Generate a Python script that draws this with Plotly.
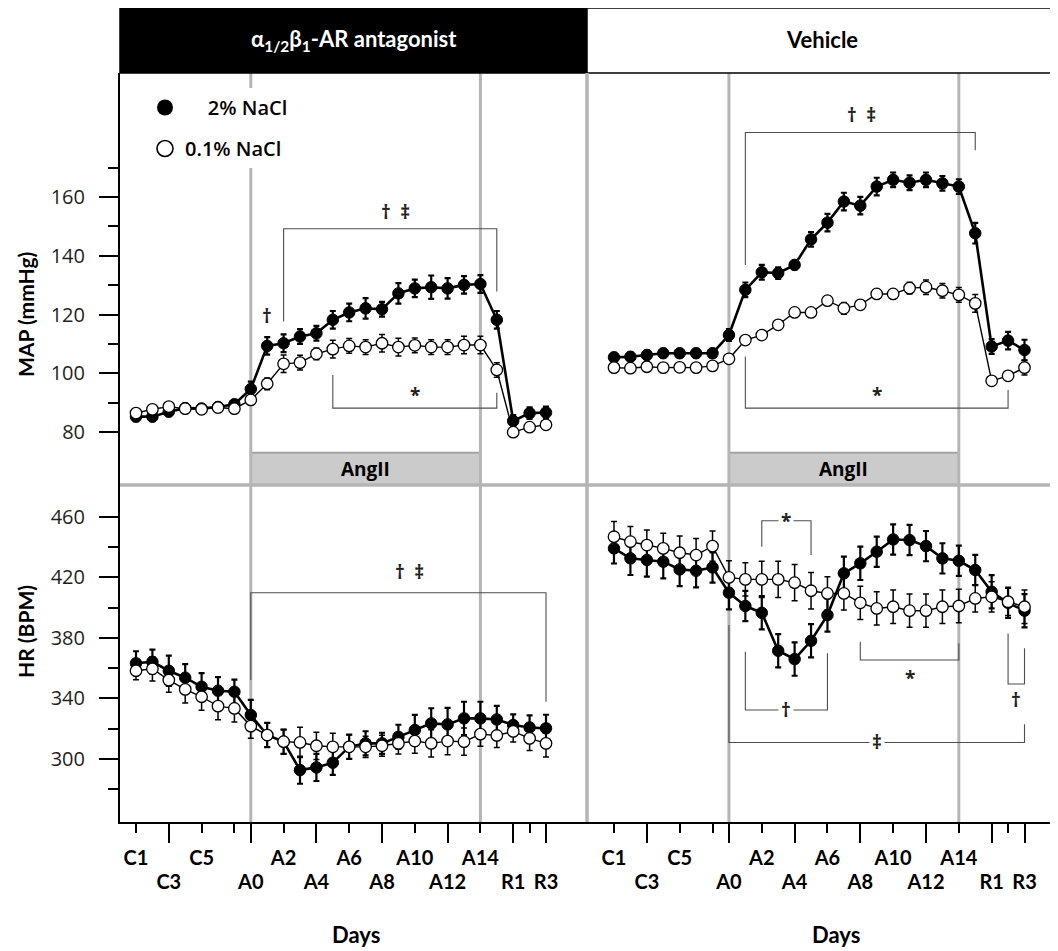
import plotly.graph_objects as go

# page offset: the html body adds an 8 px margin, so lay out in page pixels minus 8
OFF = 8
W, H = 1050, 943


def xp(px):
    return (px - OFF) / W


def yp(py):
    return 1 - (py - OFF) / H


# ---------------- data ----------------
day_index = list(range(26))  # C1..C7, A0..A14, extra day, R1..R3
tick_row1_vals = [0, 4, 9, 13, 17, 21]
tick_row1_text = ["C1", "C5", "A2", "A6", "A10", "A14"]
tick_plain_vals = [6, 24]
tick_row2_vals = [2, 7, 11, 15, 19, 23, 25]
tick_row2_text = ["C3", "A0", "A4", "A8", "A12", "R1", "R3"]

# MAP, alpha/beta antagonist
map_ant_2 = [85.2, 85.2, 86.9, 88.1, 88.0, 88.5, 89.4, 94.6, 109.3, 110.2, 112.5, 113.6, 118.2,
             120.7, 122.1, 121.8, 127.2, 128.9, 129.3, 128.9, 130.1, 130.4, 118.2, 83.7, 86.4, 86.6]
map_ant_2_err = [1.5, 1.5, 1.5, 1.5, 1.5, 1.5, 1.5, 2.5, 3, 3, 2.5, 2.5, 3, 3, 3.5, 2.5, 3.5, 3, 4, 3.5,
                 3, 3, 3, 2, 2, 2]
map_ant_01 = [86.4, 87.7, 88.6, 87.9, 87.7, 88.3, 87.9, 90.9, 96.4, 103.2, 103.6, 106.6, 108.2,
              109.3, 108.9, 110.2, 108.9, 109.5, 108.9, 108.9, 109.6, 109.6, 101.1, 79.9, 81.6, 82.4]
map_ant_01_err = [1, 1, 1, 1, 1, 1, 1, 1.5, 2, 3, 2.5, 2, 3, 2.5, 2.5, 3, 3, 2.5, 2.5, 2.5, 3, 3, 2.5,
                  1, 1, 1]

# MAP, vehicle
map_veh_2 = [105.4, 105.6, 106.2, 106.8, 106.8, 106.8, 106.8, 113.0, 128.4, 134.4, 134.1, 136.9,
             145.6, 151.3, 158.5, 157.1, 163.6, 165.9, 164.9, 165.9, 164.7, 163.6, 147.7, 109.1,
             111.1, 107.9]
map_veh_2_err = [1.5, 1.5, 1.5, 1.5, 1.5, 1.5, 1.5, 2, 2.5, 2.5, 2, 1.5, 2.5, 3, 3, 3, 3, 2.5, 2.5,
                 2.5, 2.5, 2.5, 3.5, 2.5, 3, 3.5]
map_veh_01 = [101.9, 101.7, 102.2, 101.9, 102.0, 101.9, 102.5, 104.9, 111.3, 113.0, 116.5, 120.7,
              120.7, 124.7, 122.1, 123.3, 127.0, 127.0, 129.0, 129.3, 128.1, 126.7, 123.8, 97.4,
              99.1, 101.9]
map_veh_01_err = [0.8, 0.8, 0.8, 0.8, 0.8, 0.8, 0.8, 1, 1, 1, 1, 1, 1, 1.5, 2, 1.5, 1.5, 1.5, 2, 2.5,
                  2.5, 2.5, 3, 1, 1, 2.5]

# HR, alpha/beta antagonist
hr_ant_2 = [363.1, 364.1, 358.2, 353.6, 347.6, 345.0, 344.3, 328.9, 315.7, 311.3, 292.5, 294.3,
            297.4, 307.9, 310.2, 310.2, 314.5, 319.0, 323.4, 322.7, 326.7, 326.7, 326.0, 322.3,
            320.7, 320.1]
hr_ant_2_err = [8, 8, 10, 9, 9, 9, 8, 10, 8, 8, 9, 9, 8, 8, 8, 7, 8, 10, 10, 11, 11, 11, 9, 7, 8, 9]
hr_ant_01 = [358.2, 359.5, 352.0, 345.9, 341.0, 334.8, 333.3, 321.6, 315.7, 311.3, 310.8, 308.6,
             307.9, 307.9, 307.9, 308.6, 310.2, 311.7, 310.2, 311.7, 311.3, 316.3, 315.4, 318.1,
             313.5, 310.2]
hr_ant_01_err = [6, 8, 8, 9, 9, 9, 9, 8, 8, 8, 10, 9, 9, 8, 7, 7, 7, 8, 9, 9, 9, 8, 8, 7, 8, 9]

# HR, vehicle
hr_veh_2 = [439.1, 432.5, 431.4, 430.3, 425.2, 424.3, 426.5, 409.8, 401.0, 396.5, 371.4, 365.9,
            378.0, 395.0, 422.6, 429.2, 436.9, 445.0, 444.6, 440.6, 432.5, 430.9, 424.8, 410.4,
            403.1, 397.9]
hr_veh_2_err = [10, 11, 11, 11, 11, 11, 10, 11, 10, 11, 11, 11, 11, 11, 11, 11, 10, 10, 10, 10, 10,
                10, 10, 11, 10, 11]
hr_veh_01 = [446.8, 443.5, 441.3, 439.1, 436.2, 434.7, 440.6, 419.9, 418.6, 418.6, 418.6, 416.4,
             411.1, 409.3, 409.3, 403.1, 399.4, 400.5, 397.9, 397.9, 400.5, 401.0, 406.0, 407.1,
             403.8, 400.5]
hr_veh_01_err = [10, 10, 10, 10, 11, 11, 10, 11, 11, 12, 12, 12, 12, 11, 11, 11, 11, 11, 11, 11, 11,
                 11, 9, 10, 9, 11]

# significance brackets: axis, x0, x1, y of bar, y of left end, y of right end
bracket_axes = ["1", "1", "2", "2", "3", "4", "4", "4", "4", "4"]
bracket_x0 = [9, 12, 8, 8, 7, 9, 8, 15, 24, 7]
bracket_x1 = [22, 22, 22, 24, 25, 12, 13, 21, 25, 25]
bracket_y = [149.2, 88.1, 182.0, 88.1, 409.8, 457.4, 332.2, 365.3, 349.4, 310.8]
bracket_yl = [117.6, 99.4, 136.9, 105.7, 352.0, 440.2, 370.8, 377.4, 382.9, 388.4]
bracket_yr = [127.8, 93.3, 176.0, 94.3, 337.7, 434.7, 369.7, 376.3, 373.0, 322.9]

# significance symbols
sig_axes = ["1", "1", "1", "2", "2", "3", "4", "4", "4", "4", "4"]
sig_x = [15.85, 8.0, 17.0, 15.1, 16.0, 16.7, 10.5, 10.5, 18.0, 24.5, 16.0]
sig_y = [155.0, 119.5, 92.6, 188.0, 92.6, 423.6, 457.4, 332.2, 353.2, 338.8, 310.8]
sig_text = ["†\u2002‡", "†", "*", "†\u2002‡", "*", "†\u2002‡", "*", "†", "*", "†", "‡"]
sig_gap = [False, False, False, False, False, False, True, True, False, False, True]

angii_start, angii_end = 7, 21

series_names = ["\u2007\u20072% NaCl", "0.1% NaCl"]

# ---------------- style ----------------
COND = "Lato, Roboto, sans-serif"
REG = "Open Sans, Noto Sans, sans-serif"
INK = "#231f20"
GRAY = "#b5b5b5"

left_dom = [xp(120), xp(587)]
right_dom = [xp(587), 1.0]
top_dom = [yp(485), yp(73)]
bot_dom = [yp(822), yp(485)]
range_left = [-0.976, 27.5]
range_right = [-1.644, 27.04]
range_map = [61.9, 202.3]
range_hr = [258.2, 481.0]

fig = go.Figure()

panels = [
    ("x", "y", map_ant_2, map_ant_2_err, map_ant_01, map_ant_01_err),
    ("x2", "y2", map_veh_2, map_veh_2_err, map_veh_01, map_veh_01_err),
    ("x3", "y3", hr_ant_2, hr_ant_2_err, hr_ant_01, hr_ant_01_err),
    ("x4", "y4", hr_veh_2, hr_veh_2_err, hr_veh_01, hr_veh_01_err),
]
for xa, ya, hi, hie, lo, loe in panels:
    fig.add_trace(go.Scatter(
        x=day_index, y=hi, xaxis=xa, yaxis=ya, mode="lines+markers", showlegend=False,
        line=dict(color="black", width=2.6),
        marker=dict(size=11.5, color="black", line=dict(color="black", width=1)),
        error_y=dict(type="data", array=hie, color="black", thickness=2.2, width=3)))
    fig.add_trace(go.Scatter(
        x=day_index, y=lo, xaxis=xa, yaxis=ya, mode="lines+markers", showlegend=False,
        line=dict(color="black", width=1.4),
        marker=dict(size=11.5, color="white", line=dict(color="black", width=1.3)),
        error_y=dict(type="data", array=loe, color="black", thickness=1.5, width=3)))

# legend entries
fig.add_trace(go.Scatter(x=[None], y=[None], xaxis="x", yaxis="y", mode="markers",
                         name=series_names[0], marker=dict(size=16, color="black"), legendgroup="a"))
fig.add_trace(go.Scatter(x=[None], y=[None], xaxis="x", yaxis="y", mode="markers",
                         name=series_names[1],
                         marker=dict(size=16, color="white", line=dict(color="black", width=1.6)),
                         legendgroup="b"))
# overlay-axis carriers (invisible)
fig.add_trace(go.Scatter(x=[None], y=[None], xaxis="x5", yaxis="y3", showlegend=False, hoverinfo="skip"))
fig.add_trace(go.Scatter(x=[None], y=[None], xaxis="x6", yaxis="y4", showlegend=False, hoverinfo="skip"))

shapes = []
# header boxes
shapes.append(dict(type="rect", xref="paper", yref="paper", x0=xp(120), x1=xp(587),
                   y0=yp(73), y1=yp(8), fillcolor="black", line=dict(color="black", width=1.5)))
shapes.append(dict(type="rect", xref="paper", yref="paper", x0=xp(587), x1=1.2,
                   y0=yp(73), y1=yp(8), fillcolor="white", line=dict(color="black", width=1.5)))
# AngII boxes
for xa, ya in [("x", "y"), ("x2", "y2")]:
    shapes.append(dict(type="rect", xref=xa, yref=ya + " domain", x0=angii_start, x1=angii_end,
                       y0=0, y1=0.078, fillcolor="#cbcbcb", line=dict(width=0), layer="below"))
    shapes.append(dict(type="line", xref=xa, yref=ya + " domain", x0=angii_start, x1=angii_end,
                       y0=0.078, y1=0.078, line=dict(color="#a3a3a3", width=2), layer="below"))
# gray treatment lines
for xa, ya in [("x", "y"), ("x2", "y2"), ("x3", "y3"), ("x4", "y4")]:
    for xv in (angii_start, angii_end):
        shapes.append(dict(type="line", xref=xa, yref=ya + " domain", x0=xv, x1=xv, y0=0, y1=1,
                           line=dict(color=GRAY, width=3), layer="below"))
# panel separators
shapes.append(dict(type="line", xref="paper", yref="paper", x0=xp(120), x1=1.0,
                   y0=yp(485), y1=yp(485), line=dict(color=GRAY, width=3.5)))
shapes.append(dict(type="line", xref="paper", yref="paper", x0=xp(587), x1=xp(587),
                   y0=yp(822), y1=yp(73), line=dict(color=GRAY, width=3.5)))
# brackets
for ax, x0, x1, yb, yl, yr in zip(bracket_axes, bracket_x0, bracket_x1, bracket_y, bracket_yl, bracket_yr):
    xr = "x" if ax == "1" else "x" + ax
    yrf = "y" if ax == "1" else "y" + ax
    shapes.append(dict(type="path", xref=xr, yref=yrf,
                       path=f"M {x0},{yl} L {x0},{yb} L {x1},{yb} L {x1},{yr}",
                       line=dict(color="#4d4d4d", width=1.1)))


def ann(**kw):
    d = dict(showarrow=False, xanchor="center", yanchor="middle")
    d.update(kw)
    return d


annotations = []
annotations.append(ann(xref="paper", yref="paper", x=xp(353.5), y=yp(40),
                       text="α<sub>1/2</sub>β<sub>1</sub>-AR antagonist",
                       font=dict(family=COND, size=22, color="white", weight="bold")))
annotations.append(ann(xref="paper", yref="paper", x=xp(822), y=yp(40),
                       text="Vehicle", font=dict(family=COND, size=22, color="black", weight="bold")))
for xa, ya in [("x", "y"), ("x2", "y2")]:
    annotations.append(ann(xref=xa, yref=ya + " domain", x=(angii_start + angii_end) / 2, y=0.039,
                           text="AngII",
                           font=dict(family=REG, size=19, color="black", weight="bold")))
for ax, xv, yv, t, gap in zip(sig_axes, sig_x, sig_y, sig_text, sig_gap):
    xr = "x" if ax == "1" else "x" + ax
    yrf = "y" if ax == "1" else "y" + ax
    d = ann(xref=xr, yref=yrf, x=xv, y=yv, text=t,
            font=dict(family=REG, size=19, color=INK, weight="bold"))
    if gap:
        d.update(bgcolor="white", borderpad=2)
    annotations.append(d)
annotations.append(ann(xref="paper", yref="paper", x=xp(25), y=yp(315), textangle=-90,
                       text="MAP (mmHg)",
                       font=dict(family=COND, size=21, color="black", weight="bold")))
annotations.append(ann(xref="paper", yref="paper", x=xp(25), y=yp(632), textangle=-90,
                       text="HR (BPM)",
                       font=dict(family=COND, size=21, color="black", weight="bold")))
annotations.append(ann(xref="paper", yref="paper", x=xp(356), y=yp(934),
                       text="Days", font=dict(family=COND, size=22, color="black", weight="bold")))
annotations.append(ann(xref="paper", yref="paper", x=xp(836), y=yp(934),
                       text="Days", font=dict(family=COND, size=22, color="black", weight="bold")))

hidden_ax = dict(showgrid=False, zeroline=False, showline=False, ticks="",
                 showticklabels=False)
yax_common = dict(showgrid=False, zeroline=False, showline=True, linecolor="black", linewidth=2,
                  ticks="outside", ticklen=19, tickwidth=2, tickcolor="black",
                  tickfont=dict(family=REG, size=20, color=INK), ticklabelstandoff=10)
xtick_font = dict(family=COND, size=20, color="black", weight="bold")


def row2_axis(dom, rng, anchor):
    return dict(domain=dom, range=rng, anchor=anchor, showgrid=False, zeroline=False,
                showline=True, linecolor="black", linewidth=2, ticks="outside", ticklen=19,
                tickwidth=2, tickcolor="black", tickmode="array", tickvals=tick_row2_vals,
                ticktext=tick_row2_text, tickfont=xtick_font, ticklabelstandoff=22)


def row1_axis(base, rng, anchor):
    return dict(overlaying=base, anchor=anchor, side="bottom", range=rng, showgrid=False,
                zeroline=False, showline=False, ticks="outside", ticklen=10, tickwidth=2,
                tickcolor="black", tickmode="array", tickvals=tick_row1_vals,
                ticktext=tick_row1_text, tickfont=xtick_font, ticklabelstandoff=8,
                minor=dict(tickmode="array", tickvals=tick_plain_vals, ticks="outside",
                           ticklen=10, tickwidth=2, tickcolor="black"))


fig.update_layout(
    width=W, height=H, margin=dict(l=0, r=0, t=0, b=0),
    paper_bgcolor="white", plot_bgcolor="rgba(0,0,0,0)",
    showlegend=True,
    legend=dict(x=xp(145), y=yp(88), xanchor="left", yanchor="top", bgcolor="white",
                font=dict(family=REG, size=20, color="black", weight=600),
                tracegroupgap=12, itemwidth=30),
    xaxis=dict(domain=left_dom, range=range_left, anchor="y", **hidden_ax),
    xaxis2=dict(domain=right_dom, range=range_right, anchor="y2", **hidden_ax),
    xaxis3=row2_axis(left_dom, range_left, "y3"),
    xaxis4=row2_axis(right_dom, range_right, "y4"),
    xaxis5=row1_axis("x3", range_left, "y3"),
    xaxis6=row1_axis("x4", range_right, "y4"),
    yaxis=dict(domain=top_dom, range=range_map, anchor="x", tickmode="array",
               tickvals=[80, 100, 120, 140, 160],
               minor=dict(tickmode="array", tickvals=[90, 110, 130, 150, 170], ticks="outside",
                          ticklen=10, tickwidth=2, tickcolor="black"),
               **yax_common),
    yaxis2=dict(domain=top_dom, range=range_map, anchor="x2", **hidden_ax),
    yaxis3=dict(domain=bot_dom, range=range_hr, anchor="x3", tickmode="array",
                tickvals=[300, 340, 380, 420, 460],
                minor=dict(tickmode="array", tickvals=[280, 320, 360, 400, 440], ticks="outside",
                           ticklen=10, tickwidth=2, tickcolor="black"),
                **yax_common),
    yaxis4=dict(domain=bot_dom, range=range_hr, anchor="x4", **hidden_ax),
    shapes=shapes,
    annotations=annotations,
)

fig.write_html("out.html")
